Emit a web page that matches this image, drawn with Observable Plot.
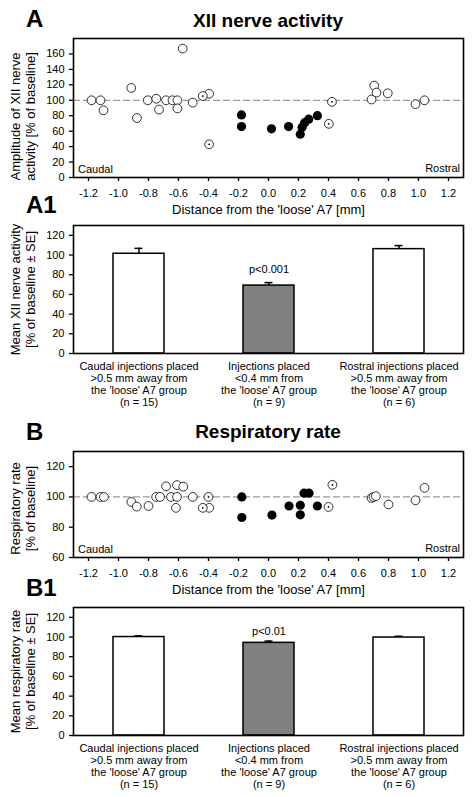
<!DOCTYPE html>
<html><head><meta charset="utf-8">
<script src="https://cdn.jsdelivr.net/npm/d3@7"></script>
<script src="https://cdn.jsdelivr.net/npm/@observablehq/plot@0.6"></script>
<style>
body{margin:0;background:#fff;font-family:"Liberation Sans",Arial,sans-serif;}
#root{position:relative;width:473px;height:797px;overflow:hidden;background:#fff;}
.abs{position:absolute;}
.letter{font-size:24px;font-weight:bold;line-height:24px;left:26px;white-space:nowrap;}
.title{font-size:19px;font-weight:bold;line-height:19px;left:73px;width:390px;text-align:center;white-space:nowrap;}
svg{display:block;}
</style></head><body><div id="root"></div>
<script>
// ---- data ----
const xTicks = [-1.2, -1.0, -0.8, -0.6, -0.4, -0.2, 0.0, 0.2, 0.4, 0.6, 0.8, 1.0, 1.2];
const xiiTicks = [0, 20, 40, 60, 80, 100, 120, 140, 160];
const rrTicks = [60, 80, 100, 120];
const barTicks = [0, 20, 40, 60, 80, 100, 120];

// Panel A: XII nerve activity vs distance
const xiiOpenX = [-1.18, -1.12, -1.10, -0.915, -0.877, -0.805, -0.748, -0.73, -0.683, -0.64, -0.607, -0.607, -0.572, -0.505, -0.396, 0.687, 0.705, 0.72, 0.795, 0.98, 1.04];
const xiiOpenY = [100, 100, 87, 116, 77, 100, 102, 88, 100, 100, 100, 89.5, 167, 97, 108.5, 101, 119, 110, 109, 95, 100];
const xiiFilledX = [-0.18, -0.18, 0.02, 0.134, 0.212, 0.224, 0.241, 0.268, 0.326];
const xiiFilledY = [81, 66, 63, 66, 56, 65, 71, 75.5, 80];
const xiiDottedX = [-0.438, -0.396, 0.402, 0.423];
const xiiDottedY = [105.5, 43, 69.5, 98];

// Panel B: respiratory rate vs distance
const rrOpenX = [-1.18, -1.12, -1.097, -0.914, -0.878, -0.80, -0.749, -0.723, -0.683, -0.65, -0.61, -0.61, -0.617, -0.568, -0.505, -0.395, 0.687, 0.70, 0.716, 0.80, 0.98, 1.04];
const rrOpenY = [100, 100, 100, 96.7, 93.6, 94, 100, 100, 107, 100, 107.8, 100, 92.8, 106.8, 100, 92.8, 99.3, 100, 100.5, 95, 97.8, 106];
const rrFilledX = [-0.178, -0.178, 0.023, 0.137, 0.212, 0.212, 0.237, 0.27, 0.326];
const rrFilledY = [100, 86.4, 88, 94, 94.5, 88.2, 102.5, 102.5, 94];
const rrDottedX = [-0.438, -0.40, 0.40, 0.426];
const rrDottedY = [92.8, 100, 93.4, 108];

// Bar panels
const groups = ["caudal", "near", "rostral"];
const groupLabels = [
  "Caudal injections placed\n>0.5 mm away from\nthe 'loose' A7 group\n(n = 15)",
  "Injections placed\n<0.4 mm from\nthe 'loose' A7 group\n(n = 9)",
  "Rostral injections placed\n>0.5 mm away from\nthe 'loose' A7 group\n(n = 6)"
];
const xiiMean = [101.3, 69, 106];
const xiiSE = [5.5, 3, 3.6];
const xiiP = ["", "p<0.001", ""];
const rrMean = [100, 94.1, 99.5];
const rrSE = [1.2, 1.8, 1.3];
const rrP = ["", "p<0.01", ""];

// ---- drawing ----
const FONT = '"Liberation Sans", Arial, sans-serif';
const pts = (xs, ys) => xs.map((x, i) => ({x, y: ys[i]}));
const style = {fontFamily: FONT, fontSize: "11px", color: "black", background: "none", overflow: "visible"};

function scatterPlot(o) {
  return Plot.plot({
    width: 473, height: o.mt + o.fh + o.mb,
    marginLeft: 73, marginRight: 10, marginTop: o.mt, marginBottom: o.mb,
    style,
    x: {domain: [-1.3, 1.3]},
    y: {domain: o.yDomain},
    marks: [
      Plot.ruleY([100], {stroke: "#9a9a9a", strokeWidth: 1.3, strokeDasharray: "7,3"}),
      Plot.dot(o.open, {x: "x", y: "y", r: 4.4, fill: "white", stroke: "black", strokeWidth: 0.8}),
      Plot.dot(o.dotted, {x: "x", y: "y", r: 4.4, fill: "white", stroke: "black", strokeWidth: 0.8}),
      Plot.dot(o.dotted, {x: "x", y: "y", r: 0.9, fill: "black"}),
      Plot.dot(o.filled, {x: "x", y: "y", r: 4.6, fill: "black"}),
      Plot.frame({stroke: "black", strokeWidth: 1.6}),
      Plot.axisX({ticks: xTicks, tickFormat: d => d.toFixed(1), tickSize: 4, tickPadding: 8, strokeWidth: 1.3, label: null}),
      Plot.axisY({ticks: o.yTicks, tickSize: 4, tickPadding: 5, strokeWidth: 1.3, label: null}),
      Plot.text(["Distance from the 'loose' A7 [mm]"], {frameAnchor: "bottom", dy: 32, lineAnchor: "middle", fontSize: 13}),
      Plot.text([o.ylabel], {frameAnchor: "left", dx: -50.5, dy: o.labelDy, rotate: -90, lineHeight: 1.15, fontSize: 13, lineAnchor: "middle", textAnchor: "middle"}),
      Plot.text(["Caudal"], {frameAnchor: "bottom-left", dx: 4.5, dy: -8.5, lineAnchor: "middle", textAnchor: "start"}),
      Plot.text(["Rostral"], {frameAnchor: "bottom-right", dx: -3.5, dy: -9, lineAnchor: "middle", textAnchor: "end"})
    ]
  });
}

function barPlot(o) {
  const data = groups.map((g, i) => ({g, label: groupLabels[i], mean: o.mean[i], se: o.se[i], p: o.p[i]}));
  return Plot.plot({
    width: 473, height: o.mt + 128 + o.mb,
    marginLeft: 73, marginRight: 10, marginTop: o.mt, marginBottom: o.mb,
    style,
    x: {domain: groups, paddingInner: 0.608, paddingOuter: 0.304, axis: null},
    y: {domain: [0, 130]},
    marks: [
      Plot.barY(data, {x: "g", y: "mean", fill: d => d.g === "near" ? "#808080" : "white", stroke: "black", strokeWidth: 1.5}),
      Plot.ruleX(data, {x: "g", y1: "mean", y2: d => d.mean + d.se, stroke: "black", strokeWidth: 1.5}),
      Plot.tickY(data, {x: "g", y: d => d.mean + d.se, stroke: "black", strokeWidth: 1.5, insetLeft: 21.5, insetRight: 21.5}),
      Plot.text(data, {x: "g", y: d => d.mean + d.se, text: "p", dy: o.pDy, lineAnchor: "middle"}),
      Plot.frame({stroke: "black", strokeWidth: 1.6}),
      Plot.axisY({ticks: barTicks, tickSize: 4, tickPadding: 5, strokeWidth: 1.3, label: null}),
      Plot.text(data, {x: "g", frameAnchor: "bottom", text: "label", dy: 8, lineAnchor: "top", lineHeight: 1.09}),
      Plot.text([o.ylabel], {frameAnchor: "left", dx: -50.5, dy: 0, rotate: -90, lineHeight: 1.15, fontSize: 13, lineAnchor: "middle", textAnchor: "middle"})
    ]
  });
}

const root = document.getElementById("root");
function place(node, top) {
  node.style.position = "absolute";
  node.style.left = "0px";
  node.style.top = top + "px";
  root.appendChild(node);
}
function label(text, cls, top) {
  const d = document.createElement("div");
  d.className = "abs " + cls;
  d.style.top = top + "px";
  d.textContent = text;
  root.appendChild(d);
}

place(scatterPlot({
  open: pts(xiiOpenX, xiiOpenY), filled: pts(xiiFilledX, xiiFilledY), dotted: pts(xiiDottedX, xiiDottedY),
  yDomain: [0, 180], yTicks: xiiTicks, ylabel: "Amplitude of XII nerve\nactivity [% of baseline]",
  labelDy: 8.5, mt: 8, fh: 139, mb: 38
}), 30);

place(barPlot({
  mean: xiiMean, se: xiiSE, p: xiiP, pDy: -13, ylabel: "Mean XII nerve activity\n[% of baseline ± SE]",
  mt: 5, mb: 55
}), 220);

place(scatterPlot({
  open: pts(rrOpenX, rrOpenY), filled: pts(rrFilledX, rrFilledY), dotted: pts(rrDottedX, rrDottedY),
  yDomain: [60, 130], yTicks: rrTicks, ylabel: "Respiratory rate\n[% of baseline]",
  labelDy: 4, mt: 7, fh: 106, mb: 40
}), 444);

place(barPlot({
  mean: rrMean, se: rrSE, p: rrP, pDy: -10, ylabel: "Mean respiratory rate\n[% of baseline ± SE]",
  mt: 5, mb: 62
}), 602);

label("A", "letter", 6.7);
label("XII nerve activity", "title", 10.9);
label("A1", "letter", 193.2);
label("B", "letter", 419.7);
label("Respiratory rate", "title", 422.4);
label("B1", "letter", 575.7);
</script></body></html>
